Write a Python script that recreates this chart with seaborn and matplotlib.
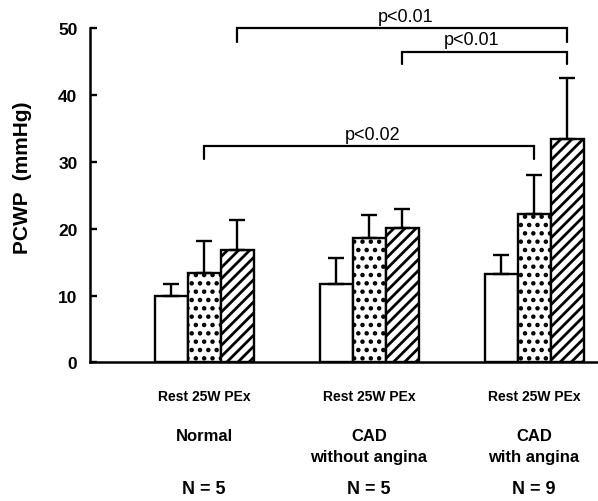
import matplotlib
matplotlib.use("Agg")
import matplotlib.pyplot as plt
import seaborn as sns
import pandas as pd
import numpy as np

# ---- data ----
groups = ["Normal", "CAD\nwithout angina", "CAD\nwith angina"]
conditions = ["Rest", "25W", "PEx"]
rest_mean = [10.0, 11.7, 13.2]
w25_mean = [13.3, 18.6, 22.2]
pex_mean = [16.8, 20.1, 33.5]
rest_sd = [1.7, 3.9, 2.9]
w25_sd = [4.9, 3.5, 5.9]
pex_sd = [4.5, 2.9, 9.0]
n_labels = ["N = 5", "N = 5", "N = 9"]
yticks = [0, 10, 20, 30, 40, 50]
# significance brackets: (group_a, cond_a, group_b, cond_b, text)
brackets = [(0, 2, 2, 2, "p<0.01"), (1, 2, 2, 2, "p<0.01"), (0, 1, 2, 1, "p<0.02")]
bracket_y = [50.0, 46.5, 32.4]
bracket_drop = [2.0, 1.9, 2.0]
bracket_text_x = [1.22, 1.62, 1.02]

means = [rest_mean, w25_mean, pex_mean]
sds = [rest_sd, w25_sd, pex_sd]
rows = []
for ci, c in enumerate(conditions):
    for gi, g in enumerate(groups):
        rows.append({"group": g, "cond": c, "value": means[ci][gi], "sd": sds[ci][gi]})
df = pd.DataFrame(rows)

sns.set_style("ticks")
plt.rcParams["font.family"] = ["Liberation Sans", "DejaVu Sans"]
plt.rcParams["hatch.linewidth"] = 2.0
plt.rcParams["hatch.color"] = "black"
for k in ["text.color", "axes.labelcolor", "xtick.color", "ytick.color", "axes.edgecolor"]:
    plt.rcParams[k] = "black"

fig = plt.figure(figsize=(5.98, 5.02), dpi=100)
ax = fig.add_axes([0.1505, 0.2763, 0.848, 0.6653])

sns.barplot(data=df, x="group", y="value", hue="cond", order=groups,
            hue_order=conditions, width=0.6, errorbar=None, ax=ax,
            palette=["white", "white", "white"], edgecolor="black",
            linewidth=1.7, legend=False, saturation=1)

hatches = ["", "..", "///"]
centers = {}
bar_containers = list(ax.containers)
for ci, cont in enumerate(bar_containers):
    for gi, patch in enumerate(cont.patches):
        patch.set_hatch(hatches[ci])
        patch.set_edgecolor("black")
        patch.set_facecolor("white")
        xc = patch.get_x() + patch.get_width() / 2
        h = patch.get_height()
        centers[(gi, ci)] = xc
        ax.errorbar([xc], [h], yerr=[[0], [sds[ci][gi]]], fmt="none",
                    ecolor="black", elinewidth=1.7, capsize=5.5, capthick=1.7,
                    zorder=1)

ax.set_ylim(0, 50)
ax.set_xlim(-0.691, 2.382)
ax.set_yticks(yticks)
ax.set_yticklabels([str(t) for t in yticks], fontsize=12.5, fontweight="bold")
ax.tick_params(axis="y", direction="in", length=5, width=1.7, pad=9, colors="black")
ax.set_xticks([])
ax.set_xlabel("")
ax.set_ylabel("PCWP  (mmHg)", fontsize=15, fontweight="bold", color="black")
ax.yaxis.set_label_coords(-0.115, 0.556)
for s in ["top", "right"]:
    ax.spines[s].set_visible(False)
for s in ["left", "bottom"]:
    ax.spines[s].set_linewidth(1.8)
    ax.spines[s].set_color("black")

# brackets
for (ga, ca, gb, cb, txt), yb, dr, tx in zip(brackets, bracket_y, bracket_drop, bracket_text_x):
    xa = centers[(ga, ca)]
    xb = centers[(gb, cb)]
    ax.plot([xa, xa, xb, xb], [yb - dr, yb, yb, yb - dr], color="black",
            lw=1.6, clip_on=False, solid_joinstyle="miter")
    ax.text(tx, yb + 0.5, txt, ha="center", va="bottom", fontsize=13,
            clip_on=False, color="black")

# labels below axis
tr = ax.get_xaxis_transform()
for gi, g in enumerate(groups):
    ax.text(gi, -0.101, "Rest 25W PEx", transform=tr, ha="center", va="center",
            fontsize=10, fontweight="bold", color="black")
    ax.text(gi, -0.197, g, transform=tr, ha="center", va="top",
            fontsize=12, fontweight="bold", linespacing=1.5,
            multialignment="center", color="black")
    ax.text(gi, -0.379, n_labels[gi], transform=tr, ha="center", va="center",
            fontsize=13, fontweight="bold", color="black")

fig.savefig("out.png", dpi=100)
